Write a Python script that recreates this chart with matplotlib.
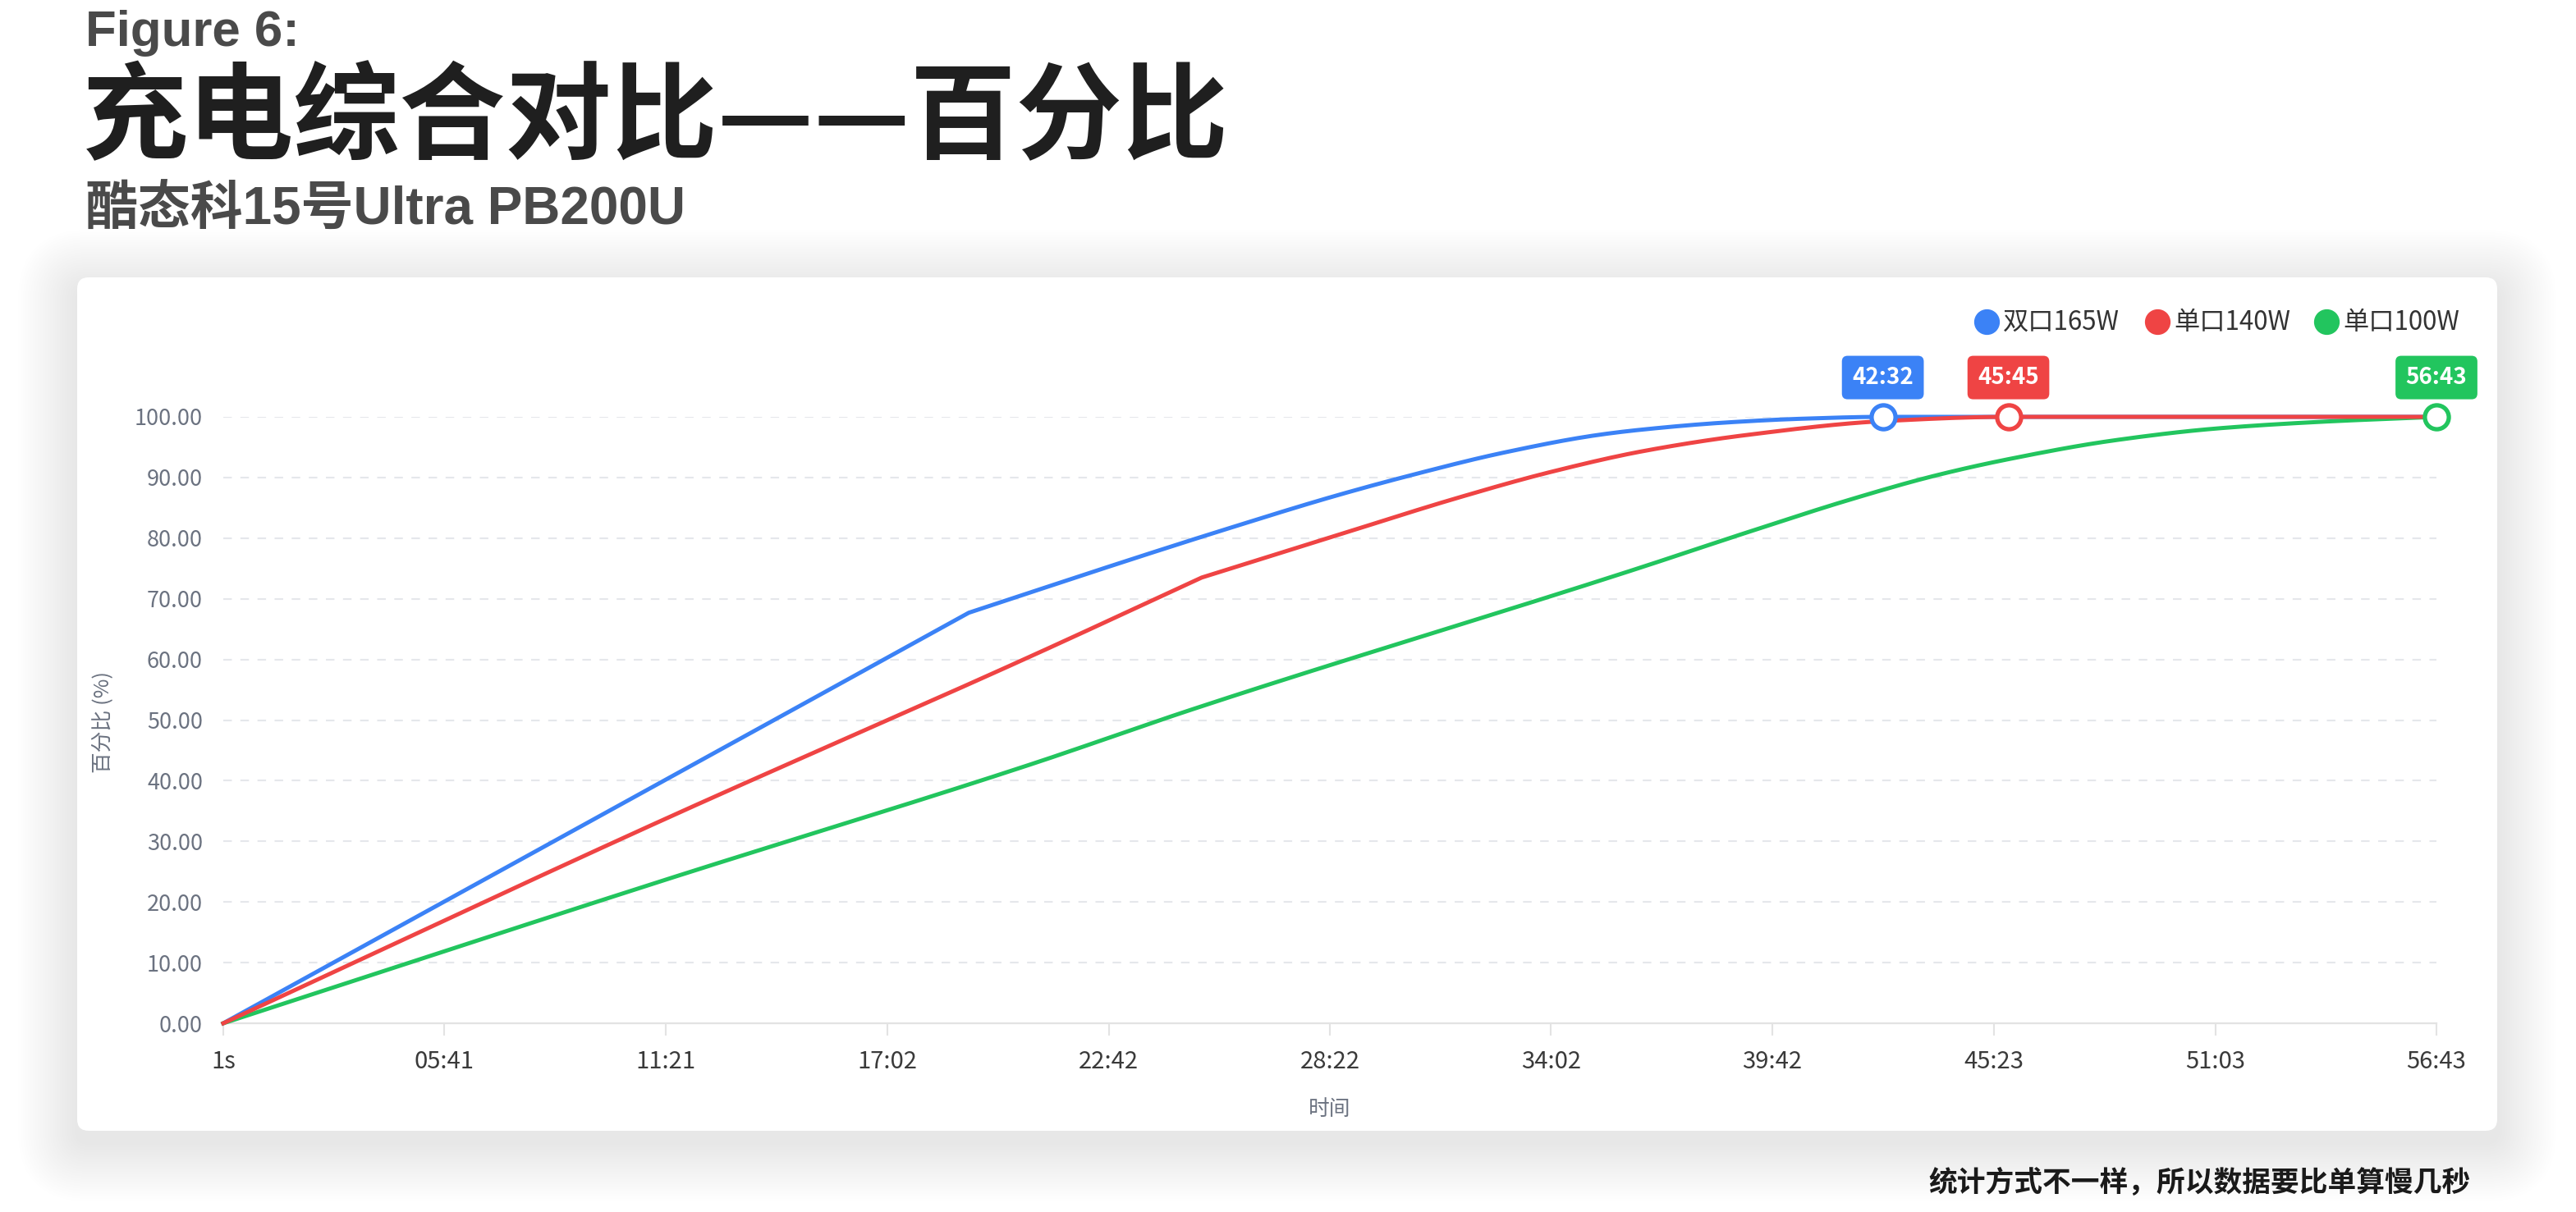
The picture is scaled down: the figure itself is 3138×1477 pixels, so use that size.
import matplotlib
matplotlib.use("Agg")
import numpy as np
import matplotlib.pyplot as plt
from matplotlib.patches import FancyBboxPatch
from matplotlib.ticker import FuncFormatter

plt.rcParams['font.family'] = ['Noto Sans CJK SC', 'DejaVu Sans']

# ---------------- data (seconds, percent) ----------------
series_names = ["双口165W", "单口140W", "单口100W"]
series_colors = ["#3b82f6", "#ef4444", "#22c55e"]

blue_t = [1, 670, 1147, 1411, 1534, 1708, 1824, 1969, 2113, 2182, 2308, 2430, 2552, 3403]
blue_p = [0, 39.5, 67.7, 77.0, 81.2, 86.9, 90.3, 94.1, 97.0, 97.9, 99.05, 99.7, 100, 100]
blue_kink = 2

red_t = [1, 670, 1248, 1505, 1708, 1897, 2041, 2186, 2342, 2553, 2745, 3403]
red_p = [0, 33.2, 60.8, 73.5, 80.3, 86.6, 90.9, 94.4, 97.0, 99.3, 100, 100]
red_kink = 3

green_t = [1, 670, 1248, 1483, 2181, 2342, 2503, 2632, 2744, 2906, 3067, 3228, 3403]
green_p = [0, 23.3, 42.9, 51.5, 75.2, 80.9, 86.4, 90.3, 93.0, 96.1, 98.1, 99.2, 100]
green_kink = None

x_ticks = [1, 341, 681, 1022, 1362, 1702, 2042, 2382, 2723, 3063, 3403]
x_tick_labels = ["1s", "05:41", "11:21", "17:02", "22:42", "28:22", "34:02",
                 "39:42", "45:23", "51:03", "56:43"]
y_ticks = [0, 10, 20, 30, 40, 50, 60, 70, 80, 90, 100]

title_small = "Figure 6:"
title_main = "充电综合对比——百分比"
subtitle = "酷态科15号Ultra PB200U"
footnote = "统计方式不一样，所以数据要比单算慢几秒"
x_label = "时间"
y_label = "百分比 (%)"


def pchip_curve(x, y, n=300):
    """Monotone cubic (Fritsch-Carlson) drawing path through the given samples."""
    x = np.asarray(x, float)
    y = np.asarray(y, float)
    if len(x) < 3:
        return x, y
    h = np.diff(x)
    d = np.diff(y) / h
    m = np.zeros_like(y)
    m[0], m[-1] = d[0], d[-1]
    for i in range(1, len(x) - 1):
        if d[i - 1] * d[i] <= 0:
            m[i] = 0.0
        else:
            w1 = 2 * h[i] + h[i - 1]
            w2 = h[i] + 2 * h[i - 1]
            m[i] = (w1 + w2) / (w1 / d[i - 1] + w2 / d[i])
    xs = np.linspace(x[0], x[-1], n)
    k = np.clip(np.searchsorted(x, xs) - 1, 0, len(x) - 2)
    t = (xs - x[k]) / h[k]
    h00 = 2 * t**3 - 3 * t**2 + 1
    h10 = t**3 - 2 * t**2 + t
    h01 = -2 * t**3 + 3 * t**2
    h11 = t**3 - t**2
    ys = h00 * y[k] + h10 * h[k] * m[k] + h01 * y[k + 1] + h11 * h[k] * m[k + 1]
    return xs, ys


def smooth_path(t, p, kink):
    if kink is None:
        return pchip_curve(t, p)
    xa, ya = pchip_curve(t[:kink + 1], p[:kink + 1])
    xb, yb = pchip_curve(t[kink:], p[kink:])
    return np.concatenate([xa, xb]), np.concatenate([ya, yb])


# ---------------- figure ----------------
W, H = 3138, 1477
fig = plt.figure(figsize=(W / 100, H / 100), dpi=100, facecolor="white")

bg = fig.add_axes([0, 0, 1, 1], zorder=0)
bg.set_xlim(0, W)
bg.set_ylim(H, 0)
bg.axis("off")

# card with soft shadow
cx0, cy0, cx1, cy1 = 94, 338, 3042, 1378
for i in range(24):
    pad = 3 + i * 3.0
    bg.add_patch(FancyBboxPatch((cx0 - pad, cy0 - pad + 14), (cx1 - cx0) + 2 * pad,
                                (cy1 - cy0) + 2 * pad,
                                boxstyle=f"round,pad=0,rounding_size={14 + pad}",
                                fc="black", ec="none", alpha=0.0055))
bg.add_patch(FancyBboxPatch((cx0, cy0), cx1 - cx0, cy1 - cy0,
                            boxstyle="round,pad=0,rounding_size=14",
                            fc="white", ec="none"))

# titles
bg.text(104, 56, title_small, fontsize=44.5, fontweight="bold",
        family=["Liberation Sans", "Noto Sans CJK SC"], color="#4a4a4a",
        ha="left", va="baseline")
bg.text(100, 184, title_main, fontsize=93, fontweight="heavy", color="#1f1f1f",
        ha="left", va="baseline")
bg.text(104, 274, subtitle, fontsize=46, fontweight="bold",
        family=["Liberation Sans", "Noto Sans CJK SC"], color="#4a4a4a",
        ha="left", va="baseline")
bg.text(3010, 1442, footnote, fontsize=25, fontweight="heavy", color="#1a1a1a",
        ha="right", va="center")

# legend (manual, top-right of card)
leg_circle_x = [2420, 2628, 2834]
for name, col, lx in zip(series_names, series_colors, leg_circle_x):
    bg.plot([lx], [392], "o", ms=21.5, mfc=col, mec=col, zorder=5)
    bg.text(lx + 20, 393, name, fontsize=22.5, color="#333333", ha="left", va="center")

# ---------------- main axes ----------------
x0, x1, y0, y1 = 272, 2968, 508, 1247
ax = fig.add_axes([x0 / W, 1 - y1 / H, (x1 - x0) / W, (y1 - y0) / H], zorder=1)
ax.set_facecolor("none")
ax.set_xlim(1, 3403)
ax.set_ylim(0, 100)

ax.set_yticks(y_ticks)
ax.yaxis.set_major_formatter(FuncFormatter(lambda v, p: f"{v:.2f}"))
ax.set_xticks(x_ticks)
ax.set_xticklabels(x_tick_labels)

for s in ["left", "right", "top"]:
    ax.spines[s].set_visible(False)
ax.spines["bottom"].set_color("#e3e3e3")
ax.spines["bottom"].set_linewidth(1.6)

ax.tick_params(axis="y", length=0, pad=18, labelsize=19.5, labelcolor="#6b7280")
ax.tick_params(axis="x", length=11, width=1.5, color="#e3e3e3", pad=12,
               labelsize=21, labelcolor="#3a3a3a")
ax.yaxis.grid(True, linestyle=(0, (5, 5)), color="#e5e7eb", linewidth=1.5)
ax.set_axisbelow(True)

ax.set_xlabel(x_label, fontsize=18.5, color="#6b7280", va="center")
ax.xaxis.set_label_coords(0.5, (y1 - 1352) / (y1 - y0))
ax.set_ylabel(y_label, fontsize=18.5, color="#6b7280", va="center")
ax.yaxis.set_label_coords((126 - x0) / (x1 - x0), (y1 - 880) / (y1 - y0))

series = [(blue_t, blue_p, blue_kink), (red_t, red_p, red_kink), (green_t, green_p, green_kink)]
zorders = [3, 5, 4]
for (t, p, k), col, z in zip(series, series_colors, zorders):
    xs, ys = smooth_path(t, p, k)
    ax.plot(xs, ys, color=col, lw=3.6, solid_joinstyle="round", clip_on=False, zorder=z)


def fmt_time(s):
    return f"{s // 60:02d}:{s % 60:02d}"


for (t, p, k), col in zip(series, series_colors):
    idx = next(i for i, v in enumerate(p) if v >= 100)
    te = t[idx]
    ax.plot([te], [p[idx]], "o", ms=21, mfc="white", mec=col, mew=3.8,
            clip_on=False, zorder=10)
    ax.annotate(fmt_time(te), xy=(te, p[idx]), xytext=(0, 34.5),
                textcoords="offset points", ha="center", va="center",
                fontsize=20, fontweight="bold", color="white",
                bbox=dict(boxstyle="round,pad=0.45,rounding_size=0.25", fc=col, ec="none"),
                annotation_clip=False, zorder=11)

fig.savefig("out.png", dpi=100, facecolor="white")
